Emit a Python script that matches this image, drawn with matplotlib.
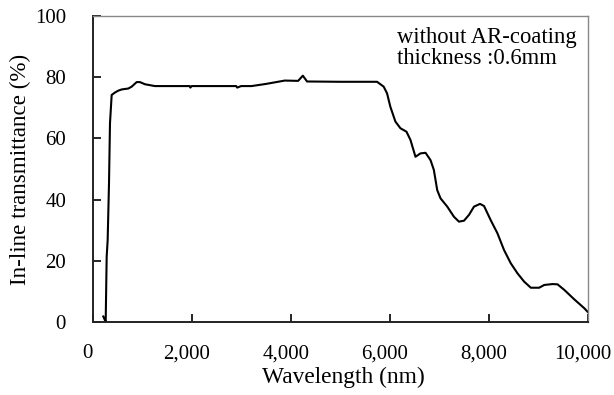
import matplotlib
matplotlib.use("Agg")
import matplotlib.pyplot as plt
import matplotlib.transforms as mtransforms

wavelength = [218, 240, 266, 286, 306, 333, 353, 387, 454, 520, 589, 722, 790, 891, 958, 1058, 1260,
              1960, 1975, 2000, 2600, 2900, 2920, 3000, 3210, 3500, 3881, 4150, 4245, 4330, 5000, 5743,
              5877, 5945, 6012, 6113, 6215, 6336, 6417, 6518, 6619, 6721, 6822, 6889, 6957, 7024, 7160,
              7294, 7395, 7497, 7598, 7699, 7821, 7902, 8036, 8172, 8306, 8441, 8577, 8711, 8846, 9015,
              9116, 9285, 9386, 9521, 9723, 9925, 10000]
transmittance = [1.8, 1.0, 0.0, 21.3, 26.8, 45.3, 65.0, 74.2, 75.0, 75.6, 76.0, 76.3, 76.9, 78.4, 78.4,
                 77.7, 77.1, 77.1, 76.6, 77.1, 77.1, 77.1, 76.6, 77.1, 77.1, 77.8, 78.9, 78.8, 80.5,
                 78.6, 78.5, 78.5, 76.9, 74.7, 70.3, 65.5, 63.3, 62.2, 59.5, 54.0, 55.1, 55.3, 52.9,
                 49.7, 43.1, 40.4, 37.7, 34.4, 32.8, 33.1, 35.0, 37.7, 38.6, 37.9, 33.3, 29.0, 23.5,
                 19.2, 15.9, 13.2, 11.2, 11.2, 12.1, 12.4, 12.3, 10.5, 7.4, 4.5, 3.2]

x_ticks = [0, 2000, 4000, 6000, 8000, 10000]
x_tick_labels = ["0", "2,000", "4,000", "6,000", "8,000", "10,000"]
y_ticks = [0, 20, 40, 60, 80, 100]

plt.rcParams['font.family'] = ['Liberation Serif', 'DejaVu Serif']

fig = plt.figure(figsize=(6.14, 3.95), dpi=100)
ax = fig.add_axes([92.5/614, 1 - 322/395, (588 - 92.5)/614, (322 - 16)/395])

ax.plot(wavelength, transmittance, color='black', linewidth=1.5)

ax.set_xlim(0, 10000)
ax.set_ylim(0, 100)
ax.set_xticks(x_ticks)
ax.set_xticklabels(x_tick_labels)
ax.set_yticks(y_ticks)
ax.tick_params(axis='both', direction='in', length=6, width=1.2, labelsize=15, colors='black')
ax.tick_params(axis='x', pad=16)
ax.tick_params(axis='y', pad=19)

shift = mtransforms.ScaledTranslation(-5/100, 0, fig.dpi_scale_trans)
for lbl in ax.get_xticklabels():
    lbl.set_transform(lbl.get_transform() + shift)

for s in ['left', 'bottom']:
    ax.spines[s].set_linewidth(1.4)
    ax.spines[s].set_color('#222222')
for s in ['top', 'right']:
    ax.spines[s].set_linewidth(1.0)
    ax.spines[s].set_color('#888888')

ax.set_xlabel("Wavelength (nm)", fontsize=16.8)
ax.xaxis.set_label_coords((343.5 - 92.5) / (588 - 92.5), -0.145)
ax.set_ylabel("In-line transmittance (%)", fontsize=16.6, labelpad=3)

ax.text(0.615, 0.965, "without AR-coating\nthickness :0.6mm", transform=ax.transAxes,
        ha='left', va='top', fontsize=16.3, linespacing=1.0)

fig.savefig("out.png", dpi=100)
